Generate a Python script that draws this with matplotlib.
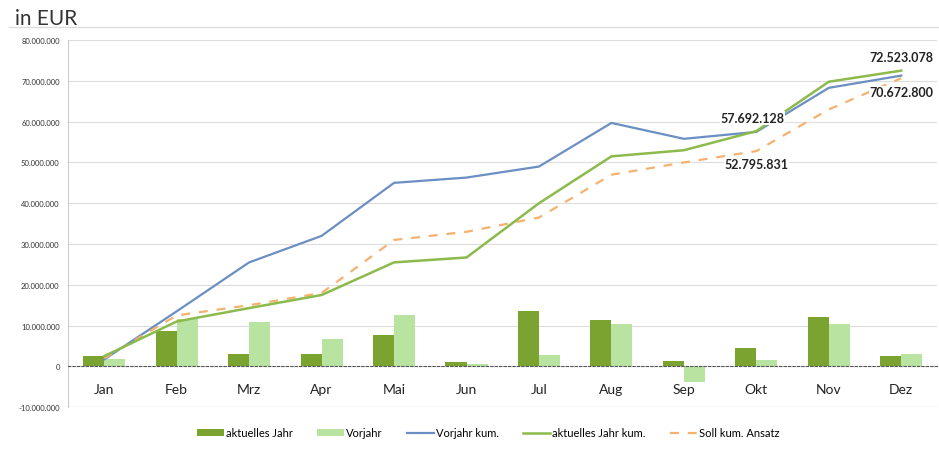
import numpy as np
import matplotlib
matplotlib.use('Agg')
from matplotlib import pyplot as plt
from matplotlib.ticker import FuncFormatter

months = ['Jan', 'Feb', 'Mrz', 'Apr', 'Mai', 'Jun',
          'Jul', 'Aug', 'Sep', 'Okt', 'Nov', 'Dez']

# monthly values (EUR)
aktuell = [2.5e6, 8.6e6, 3.0e6, 3.0e6, 7.8e6, 1.0e6,
           13.7e6, 11.3e6, 1.2e6, 4.4e6, 12.0e6, 2.5e6]
vorjahr = [1.7e6, 11.5e6, 11.0e6, 6.6e6, 12.5e6, 0.7e6,
           2.7e6, 10.5e6, -3.9e6, 1.5e6, 10.5e6, 3.0e6]

# cumulative lines (EUR)
vorjahr_kum = [1.7e6, 13.5e6, 25.5e6, 32.0e6, 45.0e6, 46.3e6,
               49.0e6, 59.7e6, 55.8e6, 57.5e6, 68.3e6, 71.3e6]
aktuell_kum = [2.5e6, 11.0e6, 14.3e6, 17.5e6, 25.5e6, 26.7e6,
               40.0e6, 51.5e6, 53.0e6, 57.692128e6, 69.8e6, 72.523078e6]
soll_kum = [2.0e6, 12.5e6, 15.0e6, 18.0e6, 31.0e6, 33.0e6,
            36.5e6, 47.0e6, 50.0e6, 52.795831e6, 63.0e6, 70.6728e6]


def de_fmt(v):
    return '{:,.0f}'.format(v).replace(',', '.')


plt.rcParams['font.family'] = ['Lato', 'DejaVu Sans']

fig = plt.figure(figsize=(9.39, 4.52), dpi=100)
ax = fig.add_axes([0.0724, 0.097, 0.926, 0.812])

x = np.arange(len(months))
w = 0.29
h1 = ax.bar(x - w / 2, aktuell, w, color='#7ba32f', label='aktuelles Jahr',
            zorder=2)
h2 = ax.bar(x + w / 2, vorjahr, w, color='#b8e3a0', label='Vorjahr',
            zorder=2)
h3, = ax.plot(x, vorjahr_kum, color='#6b8fc2', lw=1.6, label='Vorjahr kum.',
              zorder=3)
h4, = ax.plot(x, aktuell_kum, color='#8cba4c', lw=1.8,
              label='aktuelles Jahr kum.', zorder=4)
h5, = ax.plot(x, soll_kum, color='#f5b16e', lw=1.6, ls=(0, (4, 4)),
              label='Soll kum. Ansatz', zorder=3)

# value labels
for i, val, dx, dy, va in [(9, aktuell_kum[9], -0.05, 1.7e6, 'bottom'),
                           (9, soll_kum[9], 0.0, -1.7e6, 'top'),
                           (11, aktuell_kum[11], 0.0, 1.9e6, 'bottom'),
                           (11, soll_kum[11], 0.0, -2.0e6, 'top')]:
    ax.text(i + dx, val + dy, de_fmt(val), ha='center', va=va, fontsize=9,
            fontweight='bold', color='#222222', zorder=5,
            bbox=dict(facecolor='white', edgecolor='none', pad=0.5))

ax.set_xlim(-0.5, 11.5)
ax.set_ylim(-10e6, 80e6)
ax.set_yticks(np.arange(-10e6, 80.1e6, 10e6))
ax.yaxis.set_major_formatter(FuncFormatter(lambda v, p: de_fmt(v)))
ax.tick_params(axis='y', labelsize=5.5, length=0, pad=6, colors='#333333')
ax.grid(axis='y', color='#dddddd', lw=0.8, zorder=0)

ax.set_xticks(x)
ax.set_xticklabels(months, fontsize=9.5, fontweight='semibold')
ax.tick_params(axis='x', length=0, pad=12, colors='#222222')
ax.spines['bottom'].set_position(('data', 0))
ax.spines['bottom'].set_color('#555555')
ax.spines['bottom'].set_linestyle((0, (2, 2)))
ax.spines['bottom'].set_linewidth(0.8)
ax.axhline(-10e6, color='#555555', lw=0.8, ls=(0, (2, 2)), zorder=1)
ax.spines['left'].set_color('#cccccc')
for s in ['top', 'right']:
    ax.spines[s].set_visible(False)

fig.text(0.016, 0.945, 'in EUR', fontsize=15, color='#333333')
fig.add_artist(plt.Line2D([0.01, 1.0], [0.938, 0.938], color='#dddddd',
                          lw=1))

fig.legend(handles=[h1, h2, h3, h4, h5], loc='center',
           bbox_to_anchor=(0.52, 0.04), ncol=5, frameon=False, fontsize=8,
           handlelength=2.4, handleheight=0.5, handletextpad=0.2,
           columnspacing=2.2)

fig.savefig('out.png', dpi=100)
